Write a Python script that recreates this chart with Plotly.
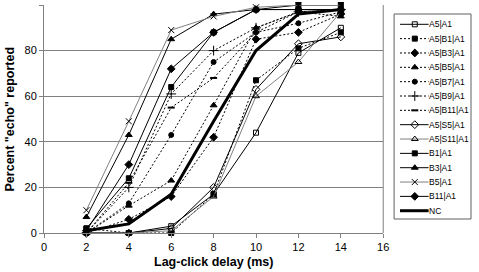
import plotly.graph_objects as go

delays = [2, 4, 6, 8, 10, 12, 14]

a5_a1 = [0, 0, 3, 17, 44, 79, 90]
a5_b1_a1 = [2, 0, 0, 17, 67, 81, 88]
a5_b3_a1 = [0, 6, 16, 42, 85, 88, 96]
a5_b5_a1 = [0, 12, 23, 56, 90, 97, 95]
a5_b7_a1 = [0, 13, 43, 75, 88, 92, 97]
a5_b9_a1 = [0, 20, 61, 80, 90, 97, 98]
a5_b11_a1 = [0, 22, 55, 68, 88, 97, 98]
a5_s5_a1 = [0, 0, 2, 20, 63, 83, 86]
a5_s11_a1 = [0, 0, 1, 16, 60, 75, 97]
b1_a1 = [2, 24, 64, 88, 98, 100, 100]
b3_a1 = [7, 43, 85, 96, 98, 98, 98]
b5_a1 = [10, 49, 89, 95, 99, 100, 100]
b11_a1 = [1, 30, 72, 88, 98, 98, 98]
nc = [1, 4, 17, 49, 80, 96, 98]

x_ticks = [0, 2, 4, 6, 8, 10, 12, 14, 16]
y_ticks = [0, 20, 40, 60, 80, 100]

GRAY = "#808080"
DOT = "2px,2px"
series = [
    ("A5|A1", a5_a1, "solid", "black", 1, "square-open", 5),
    ("A5|B1|A1", a5_b1_a1, DOT, "black", 1, "square", 5),
    ("A5|B3|A1", a5_b3_a1, DOT, "black", 1, "diamond", 6),
    ("A5|B5|A1", a5_b5_a1, DOT, "black", 1, "triangle-up", 6),
    ("A5|B7|A1", a5_b7_a1, DOT, "black", 1, "circle", 5),
    ("A5|B9|A1", a5_b9_a1, DOT, "black", 1, "cross-thin", 7),
    ("A5|B11|A1", a5_b11_a1, DOT, "black", 1, "line-ew", 5),
    ("A5|S5|A1", a5_s5_a1, "solid", "black", 1, "diamond-open", 6),
    ("A5|S11|A1", a5_s11_a1, "solid", GRAY, 1, "triangle-up-open", 6),
    ("B1|A1", b1_a1, "solid", "black", 1, "square", 5),
    ("B3|A1", b3_a1, "solid", "black", 1, "triangle-up", 6),
    ("B5|A1", b5_a1, "solid", GRAY, 1, "x-thin", 6),
    ("B11|A1", b11_a1, "solid", "black", 1, "diamond", 6),
    ("NC", nc, "solid", "black", 3, None, 0),
]

FONT = "Arial"
fig = go.Figure()

def marker_for(sym, size):
    if sym is None:
        return dict(size=1, opacity=0)
    lw = 1
    if sym == "line-ew":
        lw = 2
    return dict(symbol=sym, size=size, color="black",
                line=dict(color="black", width=lw))

for name, vals, dash, col, w, sym, size in series:
    fig.add_trace(go.Scatter(
        x=delays, y=vals, name=name,
        mode="lines" if sym is None else "lines+markers",
        line=dict(color=col, width=w, dash=dash),
        marker=marker_for(sym, size),
        cliponaxis=False, showlegend=False,
        xaxis="x", yaxis="y",
    ))

# Legend drawn on its own small axes (units = pixels inside the box)
for i, (name, vals, dash, col, w, sym, size) in enumerate(series):
    yy = 10.3 + 14.34 * i
    fig.add_trace(go.Scatter(
        x=[6, 35], y=[yy, yy], mode="lines",
        line=dict(color=col, width=w, dash=dash),
        showlegend=False, hoverinfo="skip", xaxis="x2", yaxis="y2",
    ))
    if sym is not None:
        fig.add_trace(go.Scatter(
            x=[21], y=[yy], mode="markers", marker=marker_for(sym, size),
            showlegend=False, hoverinfo="skip", xaxis="x2", yaxis="y2",
        ))
    fig.add_annotation(x=35, y=yy, xref="x2", yref="y2", text=name,
                       showarrow=False, xanchor="left", yanchor="middle",
                       borderpad=0, xshift=-1,
                       font=dict(family=FONT, size=8.5, color="black"))

W, H = 479, 272
ml, mr, mt, mb = 44, 2, 5, 39
pw = W - ml - mr
main_right = 344 / pw
leg_l = (399 - ml) / pw
leg_r = (477 - ml) / pw
ph = H - mt - mb
leg_b = (233 - 219) / ph
leg_t = (233 - 14) / ph

fig.add_shape(type="rect", xref="paper", yref="paper",
              x0=leg_l, x1=leg_r, y0=leg_b, y1=leg_t,
              line=dict(color="#606060", width=1))

fig.add_annotation(x=(216 - ml) / pw, y=(233 - 262) / ph, xref="paper",
                   yref="paper", text="<b>Lag-click delay (ms)</b>",
                   showarrow=False, xanchor="center", yanchor="middle",
                   font=dict(family=FONT, size=12.5, color="black"))
fig.add_annotation(x=(10 - ml) / pw, y=0.5, xref="paper", yref="paper",
                   text='<b>Percent "echo" reported</b>', textangle=-90,
                   showarrow=False, xanchor="center", yanchor="middle",
                   font=dict(family=FONT, size=12.5, color="black"))

fig.update_layout(
    width=W, height=H,
    margin=dict(l=ml, r=mr, t=mt, b=mb),
    paper_bgcolor="white", plot_bgcolor="white",
    font=dict(family=FONT, size=11, color="black"),
    hovermode=False,
    xaxis=dict(domain=[0, main_right], range=[0, 16], tickvals=x_ticks,
               showgrid=False, zeroline=False, showline=True,
               linecolor=GRAY, linewidth=1, ticks="outside", ticklen=4,
               tickcolor=GRAY, mirror=False),
    yaxis=dict(domain=[0, 1], range=[0, 100], tickvals=y_ticks,
               showgrid=True, gridcolor=GRAY, gridwidth=1, zeroline=False,
               showline=True, linecolor=GRAY, linewidth=1,
               ticks="outside", ticklen=4, tickcolor=GRAY),
    xaxis2=dict(domain=[leg_l, leg_r], range=[0, 78], visible=False,
                anchor="y2"),
    yaxis2=dict(domain=[leg_b, leg_t], range=[205, 0], visible=False,
                anchor="x2"),
)

fig.add_shape(type="line", xref="paper", yref="paper",
              x0=main_right, x1=main_right, y0=0, y1=1,
              line=dict(color=GRAY, width=1))

fig.write_html("out.html",
               config={"displayModeBar": False, "staticPlot": True},
               post_script="document.body.style.margin='0px';"
                           "document.body.style.overflow='hidden';")
